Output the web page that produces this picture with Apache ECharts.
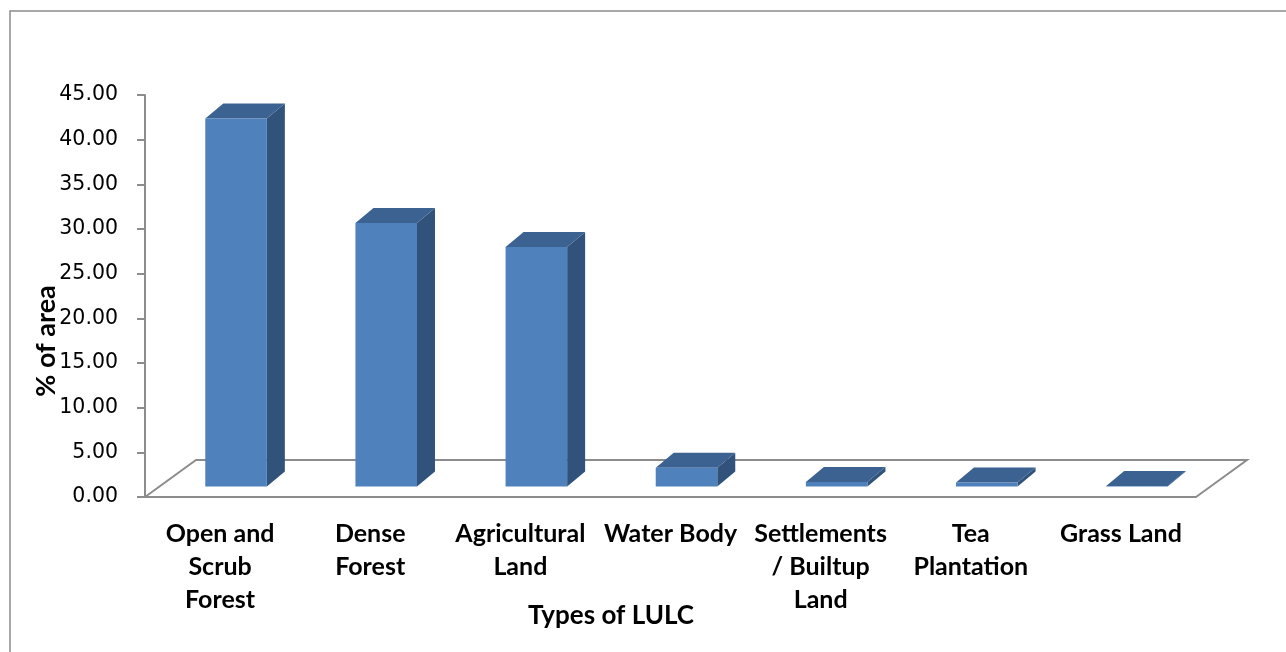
<!DOCTYPE html>
<html>
<head>
<meta charset="utf-8">
<title>LULC</title>
<script src="https://cdn.jsdelivr.net/npm/echarts@6/dist/echarts.min.js"></script>
<style>
  html, body { margin: 0; padding: 0; background: #fff; }
  #chart { width: 1286px; height: 652px; }
</style>
</head>
<body>
<div id="chart"></div>
<script>
var categories = ['Open and\nScrub\nForest', 'Dense\nForest', 'Agricultural\nLand', 'Water Body',
  'Settlements\n/ Builtup\nLand', 'Tea\nPlantation', 'Grass Land'];
var areaValues = [41.2, 29.5, 26.8, 2.1, 0.5, 0.45, 0.05];
var yMax = 45;
var yStep = 5;

(function () {
  var myChart = echarts.init(document.getElementById('chart'));

  // floor of the 3d plot (back edge + both sides), front edge is the x axis line
  function renderFloor(params, api) {
    var cs = params.coordSys;
    var fl = [cs.x, cs.y + cs.height];
    var fr = [cs.x + cs.width, cs.y + cs.height];
    var dx = 51, dy = -37;
    return {
      type: 'polyline',
      shape: { points: [fl, [fl[0] + dx, fl[1] + dy], [fr[0] + dx, fr[1] + dy], fr] },
      style: { stroke: '#8c8c8c', lineWidth: 2, fill: null }
    };
  }

  // 3d looking bar: front face, right side, top
  function renderBar(params, api) {
    var idx = api.value(0);
    var base = api.coord([idx, 0]);
    var top = api.coord([idx, api.value(1)]);
    var w = api.size([1, 0])[0] * 0.41;
    var x0 = base[0] - w / 2 + 16;
    var x1 = x0 + w;
    var yb = base[1] - 10.5;
    var yt = top[1] - 10.5;
    var dx = 18, dy = -15;
    return {
      type: 'group',
      children: [
        {
          type: 'polygon',
          shape: { points: [[x1, yb], [x1 + dx, yb + dy], [x1 + dx, yt + dy], [x1, yt]] },
          style: { fill: '#31527b' }
        },
        {
          type: 'polygon',
          shape: { points: [[x0, yt], [x0 + dx, yt + dy], [x1 + dx, yt + dy], [x1, yt]] },
          style: { fill: '#3c6291' }
        },
        {
          type: 'rect',
          shape: { x: x0, y: yt, width: w, height: yb - yt },
          style: { fill: '#4f81bd' }
        }
      ]
    };
  }

  var option = {
    animation: false,
    grid: {
      left: 145,
      right: 90,
      top: 95,
      bottom: 155
    },
    graphic: [
      {
        type: 'rect',
        shape: { x: 10, y: 11, width: 1300, height: 700 },
        style: { fill: null, stroke: '#8c8c8c', lineWidth: 1.5 },
        silent: true
      },
      {
        type: 'text',
        x: 46, y: 341,
        rotation: Math.PI / 2,
        style: {
          text: '% of area',
          font: 'bold 27px Lato',
          fill: '#000',
          align: 'center',
          verticalAlign: 'middle'
        }
      },
      {
        type: 'text',
        x: 611, y: 616,
        style: {
          text: 'Types of LULC',
          font: 'bold 26px Lato',
          fill: '#000',
          align: 'center',
          verticalAlign: 'middle'
        }
      }
    ],
    xAxis: {
      type: 'category',
      data: categories,
      axisLine: { lineStyle: { color: '#8c8c8c', width: 2 } },
      axisTick: { length: 9, lineStyle: { color: '#8c8c8c', width: 2 } },
      axisLabel: {
        interval: 0,
        margin: 20,
        color: '#000',
        fontFamily: 'Lato',
        fontWeight: 'bold',
        fontSize: 25,
        lineHeight: 33
      }
    },
    yAxis: {
      type: 'value',
      min: 0,
      max: yMax,
      interval: yStep,
      axisLine: { show: true, lineStyle: { color: '#8c8c8c', width: 2 } },
      axisTick: { show: true, length: 8, lineStyle: { color: '#8c8c8c', width: 2 } },
      splitLine: { show: false },
      axisLabel: {
        margin: 27,
        color: '#000',
        fontFamily: 'DejaVu Sans',
        fontSize: 20.5,
        formatter: function (v) { return v.toFixed(2); }
      }
    },
    series: [
      {
        name: 'floor',
        type: 'custom',
        renderItem: renderFloor,
        data: [[0, 0]],
        silent: true,
        z: 1
      },
      {
        name: '% of area',
        type: 'custom',
        renderItem: renderBar,
        encode: { x: 0, y: 1 },
        data: areaValues.map(function (v, i) { return [i, v]; }),
        z: 2
      }
    ]
  };
  myChart.setOption(option);
})();
</script>
</body>
</html>
